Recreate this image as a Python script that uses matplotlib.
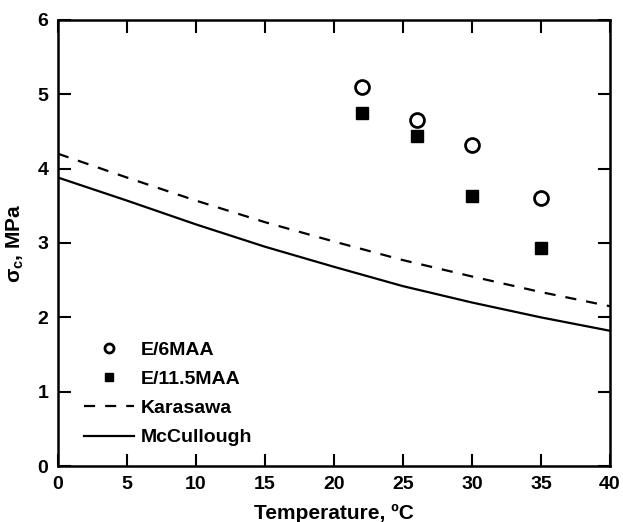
import matplotlib
matplotlib.use('Agg')
import matplotlib.pyplot as plt

plt.rcParams['font.family'] = 'Liberation Sans'
plt.rcParams['font.weight'] = 'bold'
plt.rcParams['mathtext.fontset'] = 'custom'
plt.rcParams['mathtext.rm'] = 'Liberation Sans'
plt.rcParams['mathtext.it'] = 'Liberation Sans:bold'

# measured points
temp_pts = [22, 26, 30, 35]
e6maa = [5.10, 4.65, 4.32, 3.60]
e115maa = [4.75, 4.44, 3.63, 2.93]

# model curves
temp_line = [0, 5, 10, 15, 20, 25, 30, 35, 40]
karasawa = [4.20, 3.88, 3.57, 3.28, 3.02, 2.77, 2.55, 2.34, 2.15]
mccullough = [3.88, 3.57, 3.25, 2.95, 2.68, 2.42, 2.20, 2.00, 1.82]

fig = plt.figure(figsize=(6.23, 5.22), dpi=100)
ax = fig.add_axes([0.093, 0.107, 0.886, 0.855])

ax.plot(temp_pts, e6maa, 'o', mfc='white', mec='black', mew=2, ms=10, ls='none', label='E/6MAA')
ax.plot(temp_pts, e115maa, 's', color='black', ms=9, ls='none', label='E/11.5MAA')
ax.plot(temp_line, karasawa, '--', color='black', lw=1.6, dashes=(5, 4.5), label='Karasawa')
ax.plot(temp_line, mccullough, '-', color='black', lw=1.6, label='McCullough')

ax.set_xlim(0, 40)
ax.set_ylim(0, 6)
ax.set_xticks(range(0, 41, 5))
ax.set_yticks(range(0, 7))
ax.tick_params(direction='in', length=9, width=1.5, top=True, right=True, labelsize=14, pad=7)
for s in ax.spines.values():
    s.set_linewidth(1.8)

ax.set_xlabel('Temperature, ºC', fontsize=15, fontweight='bold', labelpad=8)
ax.set_ylabel(r'$\sigma_c$, MPa', fontsize=15, fontweight='bold', labelpad=8)

ax.legend(loc='lower left', bbox_to_anchor=(0.015, 0.005), frameon=False, fontsize=14,
          handlelength=2.6, handletextpad=0.35, labelspacing=0.6, markerscale=0.65)

fig.savefig('out.png', dpi=100)
